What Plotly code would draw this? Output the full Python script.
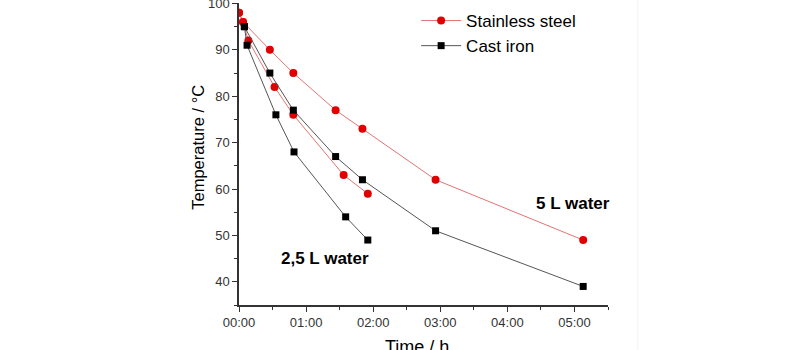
import plotly.graph_objects as go

# Time in hours, temperature in °C
ss5_t = [0, 0.06, 0.46, 0.81, 1.44, 1.84, 2.93, 5.13]
ss5_T = [98, 96, 90, 85, 77, 73, 62, 49]
ss25_t = [0, 0.06, 0.14, 0.53, 0.81, 1.56, 1.92]
ss25_T = [98, 96, 92, 82, 76, 63, 59]
ci5_t = [0.08, 0.46, 0.81, 1.44, 1.84, 2.93, 5.13]
ci5_T = [95, 85, 77, 67, 62, 51, 39]
ci25_t = [0.08, 0.12, 0.55, 0.82, 1.59, 1.92]
ci25_T = [95, 91, 76, 68, 54, 49]

x_tickvals = [0, 1, 2, 3, 4, 5]
x_ticktext = ["00:00", "01:00", "02:00", "03:00", "04:00", "05:00"]
y_tickvals = [40, 50, 60, 70, 80, 90, 100]

red_line = "#e57373"
red_mk = "#e00000"
blk_line = "#555555"
blk_mk = "#000000"

fig = go.Figure()
fig.add_trace(go.Scatter(x=ss5_t, y=ss5_T, mode="lines+markers", name="Stainless steel",
                         line=dict(color=red_line, width=1),
                         marker=dict(color=red_mk, size=8, symbol="circle"),
                         legendgroup="ss", showlegend=True))
fig.add_trace(go.Scatter(x=ss25_t, y=ss25_T, mode="lines+markers", name="Stainless steel",
                         line=dict(color=red_line, width=1),
                         marker=dict(color=red_mk, size=8, symbol="circle"),
                         legendgroup="ss", showlegend=False))
fig.add_trace(go.Scatter(x=ci5_t, y=ci5_T, mode="lines+markers", name="Cast iron",
                         line=dict(color=blk_line, width=1),
                         marker=dict(color=blk_mk, size=7, symbol="square"),
                         legendgroup="ci", showlegend=True))
fig.add_trace(go.Scatter(x=ci25_t, y=ci25_T, mode="lines+markers", name="Cast iron",
                         line=dict(color=blk_line, width=1),
                         marker=dict(color=blk_mk, size=7, symbol="square"),
                         legendgroup="ci", showlegend=False))

fig.add_annotation(x=4.98, y=56.9, text="<b>5 L water</b>", showarrow=False,
                   font=dict(size=17, color="black", family="Liberation Sans, Arial"))
fig.add_annotation(x=1.28, y=45.0, text="<b>2,5 L water</b>", showarrow=False,
                   font=dict(size=17, color="black", family="Liberation Sans, Arial"))

# axis titles placed as annotations for exact positioning
fig.add_annotation(xref="paper", yref="paper", x=-0.112, y=0.523, text="Temperature / °C",
                   textangle=-90, showarrow=False, xanchor="center", yanchor="middle",
                   font=dict(size=16.5, color="black", family="Liberation Sans, Arial"))
fig.add_annotation(xref="paper", yref="paper", x=0.482, y=-0.10, text="Time / h",
                   showarrow=False, xanchor="center", yanchor="top",
                   font=dict(size=18, color="black", family="Liberation Sans, Arial"))

# faint image border line at right
fig.add_shape(type="line", xref="paper", yref="paper", x0=1.081, x1=1.081, y0=-0.2, y1=1.05,
              line=dict(color="#f2f2f2", width=1))

fig.update_layout(
    width=800, height=350,
    margin=dict(l=239, r=192, t=3, b=45),
    plot_bgcolor="white", paper_bgcolor="white",
    font=dict(family="Liberation Sans, Arial", color="#222"),
    showlegend=True,
    legend=dict(x=0.48, y=1.0, xanchor="left", yanchor="top",
                bgcolor="rgba(0,0,0,0)", font=dict(size=17, color="black"),
                tracegroupgap=0, itemwidth=40),
    xaxis=dict(range=[0, 5.5], tickvals=x_tickvals, ticktext=x_ticktext,
               automargin=False,
               showgrid=False, zeroline=False, showline=True, linecolor="#333",
               linewidth=1.5, ticks="outside", ticklen=5, tickcolor="#333",
               minor=dict(ticks="outside", ticklen=3, dtick=0.5, tickcolor="#333"),
               tickfont=dict(size=13, color="#333")),
    yaxis=dict(range=[35, 100.1], tickvals=y_tickvals,
               automargin=False, ticklabeloverflow="allow",
               showgrid=False, zeroline=False, showline=True, linecolor="#333",
               linewidth=1.5, ticks="outside", ticklen=5, tickcolor="#333",
               minor=dict(ticks="outside", ticklen=3, dtick=5, tickcolor="#333"),
               tickfont=dict(size=13, color="#333")),
)

fig.write_html("out.html")
